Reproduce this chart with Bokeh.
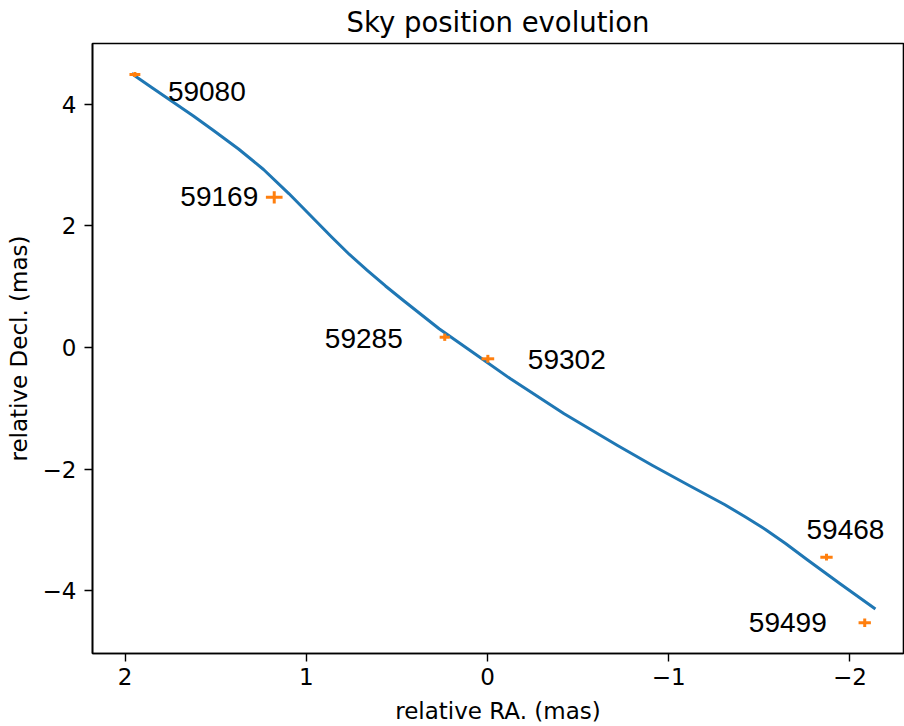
from bokeh.plotting import figure
from bokeh.models import Range1d, FixedTicker, ColumnDataSource, CustomJSTickFormatter
from bokeh.core.properties import value
from bokeh.embed import file_html
from bokeh.resources import INLINE

# model track (relative RA / Decl. in mas)
curve_ra = [1.965, 1.849, 1.736, 1.623, 1.512, 1.374, 1.236, 1.095, 0.977, 0.859,
            0.762, 0.662, 0.563, 0.464, 0.267, 0.070, -0.127, -0.423, -0.718, -0.911,
            -1.113, -1.308, -1.424, -1.534, -1.645, -1.763, -1.948, -2.141]
curve_dec = [4.507, 4.268, 4.038, 3.808, 3.569, 3.265, 2.928, 2.528, 2.171, 1.814,
             1.530, 1.266, 1.012, 0.773, 0.308, -0.104, -0.515, -1.090, -1.612, -1.941,
             -2.270, -2.582, -2.788, -2.993, -3.224, -3.487, -3.890, -4.301]

# observed epochs (MJD) with positions and errors
epochs = ["59080", "59169", "59285", "59302", "59468", "59499"]
obs_ra = [1.946, 1.177, 0.236, -0.002, -1.871, -2.082]
obs_dec = [4.490, 2.470, 0.169, -0.186, -3.449, -4.528]
ra_err = [0.030, 0.046, 0.028, 0.035, 0.034, 0.034]
dec_err = [0.040, 0.100, 0.060, 0.065, 0.055, 0.070]

x_ticks = [2, 1, 0, -1, -2]
y_ticks = [-4, -2, 0, 2, 4]

# label placement (style): alignment and pixel offsets from each point
label_align = ["left", "right", "right", "left", "left", "right"]
label_dx = [33, -16, -42, 40, -20, -38]
label_dy = [17.2, -1, 1.6, 0.7, -27.7, -0.6]

BLUE = "#1f77b4"
ORANGE = "#ff7f0e"

p = figure(width=904, height=726, output_backend="svg", toolbar_location=None,
           x_range=Range1d(2.18, -2.296), y_range=Range1d(-5.033, 5.0),
           title="Sky position evolution",
           min_border_left=92, min_border_right=1, min_border_top=43, min_border_bottom=73)

p.title.text_font = "DejaVu Sans"
p.title.text_font_size = "27.5px"
p.title.text_font_style = "normal"
p.title.text_color = "black"
p.title.align = "center"
p.title.vertical_align = "top"
p.title.standoff = 8
p.title.offset = 0

p.xgrid.visible = False
p.ygrid.visible = False
p.outline_line_color = "black"
p.outline_line_width = 1.6
p.outline_line_alpha = 1.0
p.background_fill_color = "white"
p.border_fill_color = "white"

fmt = CustomJSTickFormatter(code="return tick < 0 ? '\\u2212' + Math.abs(tick) : String(tick);")

p.xaxis.ticker = FixedTicker(ticks=x_ticks)
p.yaxis.ticker = FixedTicker(ticks=y_ticks)
for ax in (p.xaxis[0], p.yaxis[0]):
    ax.formatter = fmt
    ax.major_tick_out = 8
    ax.major_tick_in = 0
    ax.minor_tick_out = 0
    ax.minor_tick_in = 0
    ax.major_tick_line_color = "black"
    ax.major_tick_line_width = 1.4
    ax.axis_line_color = "black"
    ax.axis_line_width = 1.6
    ax.major_label_text_font = "DejaVu Sans"
    ax.major_label_text_font_size = "23px"
    ax.major_label_text_color = "black"
    ax.axis_label_text_font = "DejaVu Sans"
    ax.axis_label_text_font_size = "23px"
    ax.axis_label_text_font_style = "normal"
    ax.axis_label_text_color = "black"

p.xaxis.axis_label = "relative RA. (mas)"
p.yaxis.axis_label = "relative Decl. (mas)"
p.xaxis.major_label_standoff = 6
p.xaxis.axis_label_standoff = 10
p.yaxis.major_label_standoff = 8
p.yaxis.axis_label_standoff = 8

# model curve
p.line(curve_ra, curve_dec, line_color=BLUE, line_width=3, line_join="round")

# error bars (no caps)
p.segment(x0=[x - e for x, e in zip(obs_ra, ra_err)], y0=obs_dec,
          x1=[x + e for x, e in zip(obs_ra, ra_err)], y1=obs_dec,
          line_color=ORANGE, line_width=3)
p.segment(x0=obs_ra, y0=[y - e for y, e in zip(obs_dec, dec_err)],
          x1=obs_ra, y1=[y + e for y, e in zip(obs_dec, dec_err)],
          line_color=ORANGE, line_width=3)

# epoch labels
for align in ("left", "right"):
    idx = [i for i, a in enumerate(label_align) if a == align]
    src = ColumnDataSource(dict(
        x=[obs_ra[i] for i in idx], y=[obs_dec[i] for i in idx],
        t=[epochs[i] for i in idx],
        dx=[label_dx[i] for i in idx], dy=[label_dy[i] for i in idx]))
    p.text(x="x", y="y", text="t", x_offset="dx", y_offset="dy", source=src,
           text_font=value("Liberation Sans"), text_font_size="28px",
           text_align=align, text_baseline="alphabetic", text_color="black")

open("out.html", "w").write(file_html(p, INLINE))
